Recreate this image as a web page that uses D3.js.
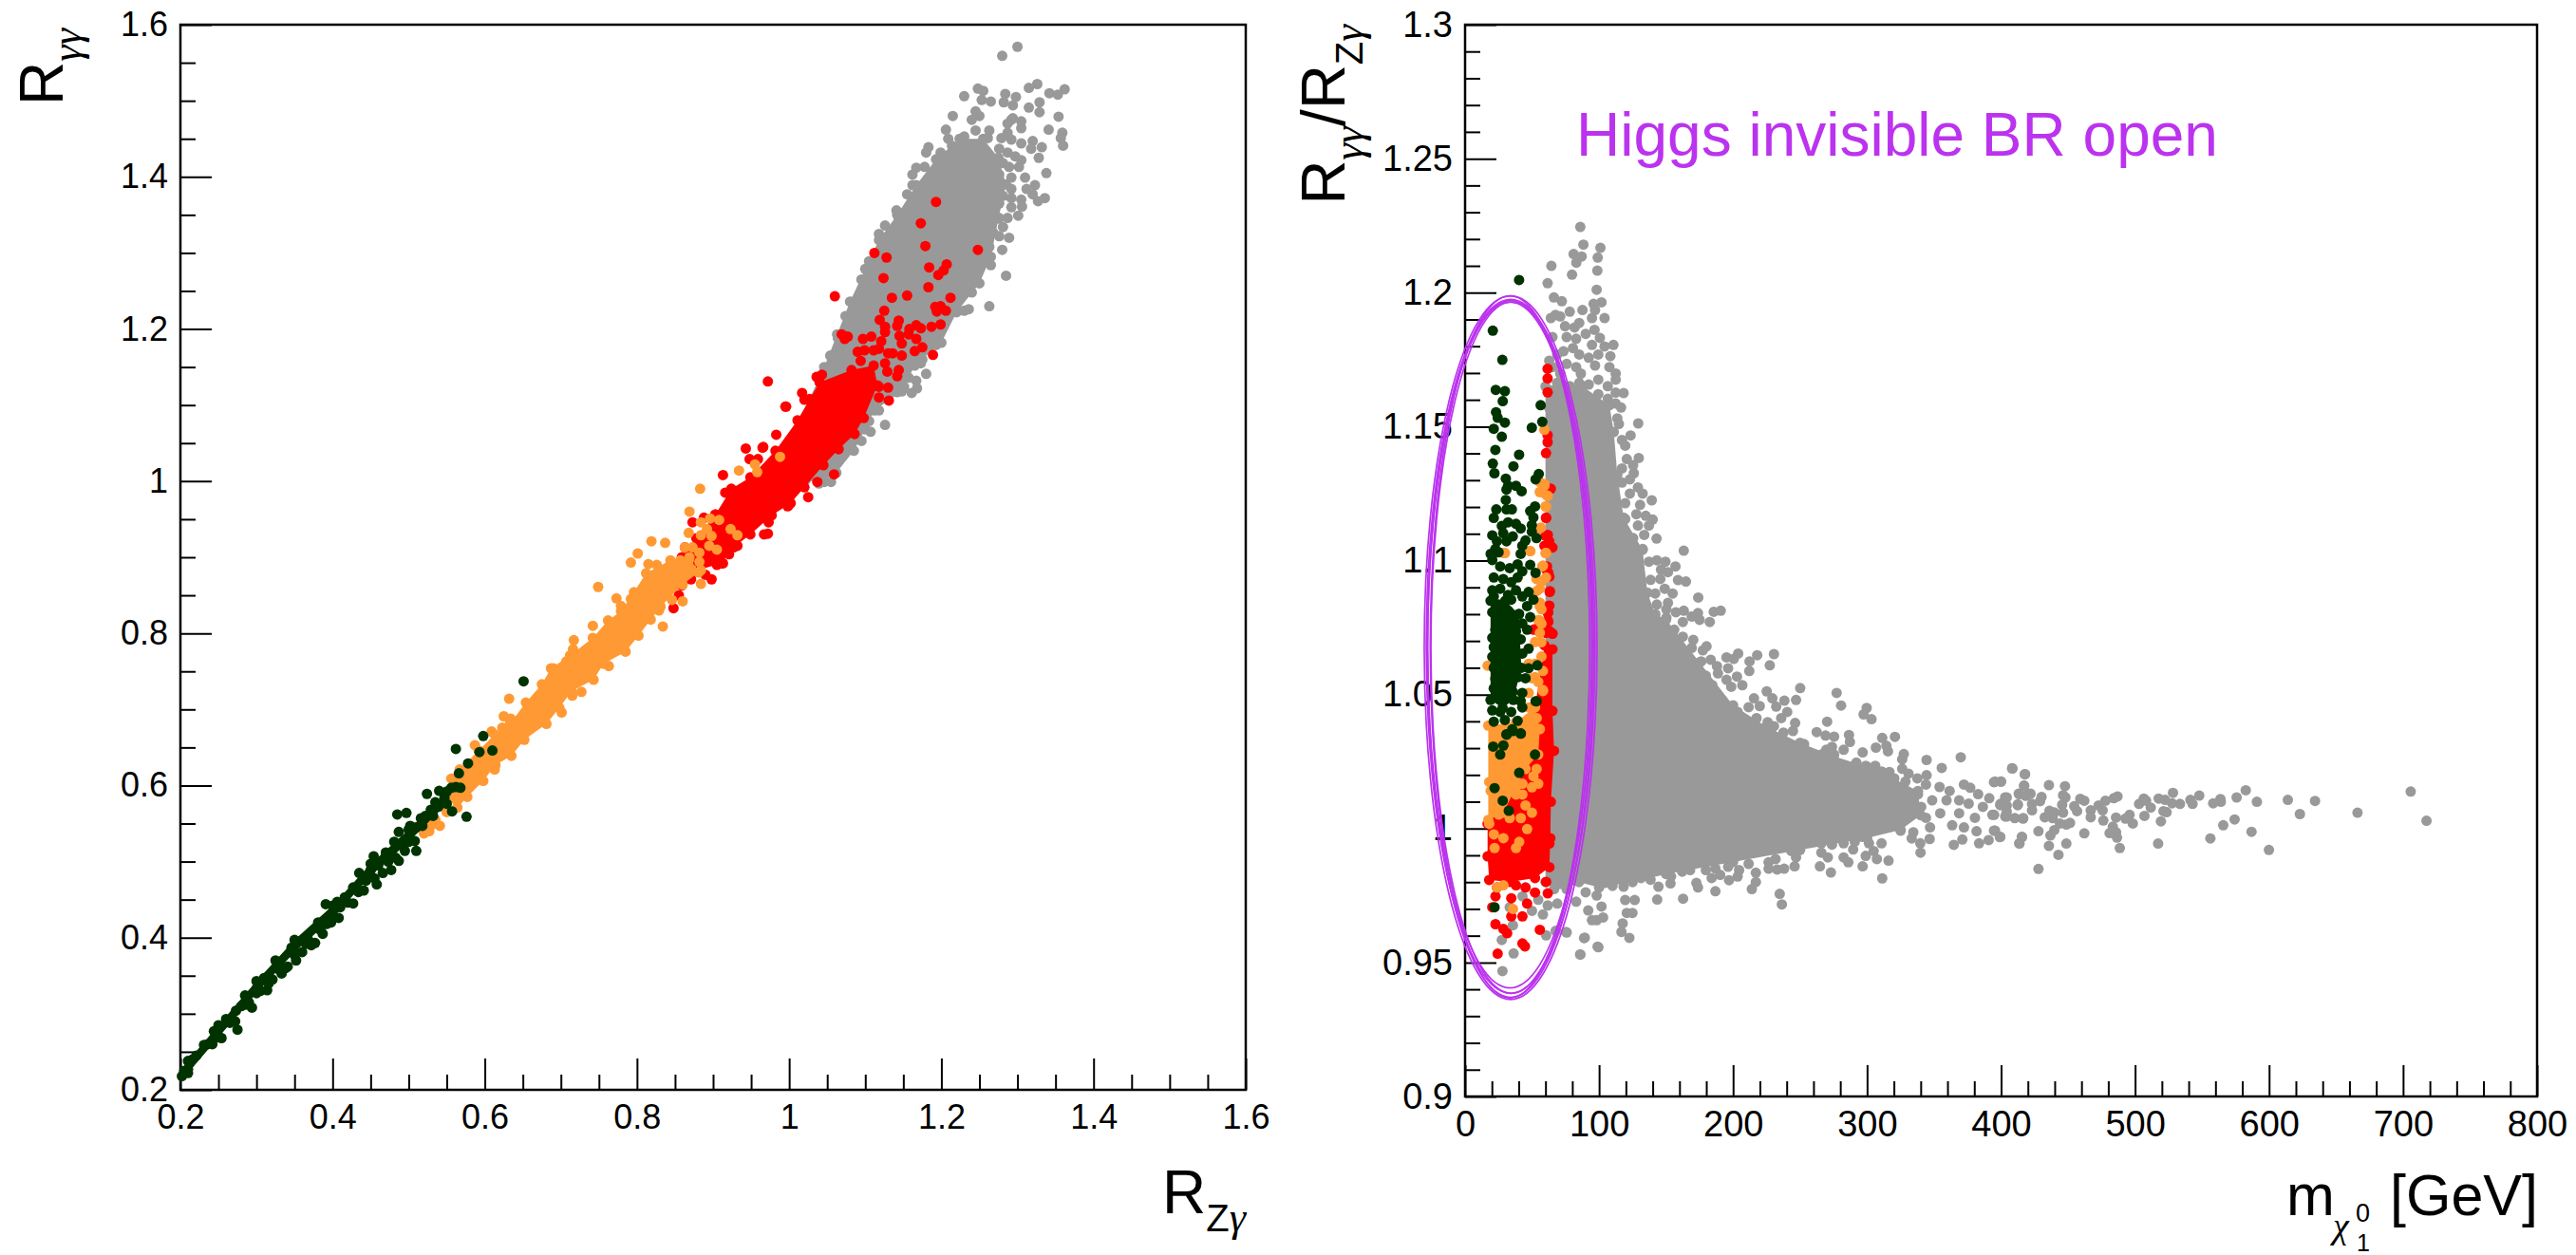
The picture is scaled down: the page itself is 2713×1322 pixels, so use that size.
<!DOCTYPE html>
<html>
<head>
<meta charset="utf-8">
<title>Higgs invisible BR open</title>
<script src="https://cdn.jsdelivr.net/npm/d3@7"></script>
<style>
  html, body { margin: 0; padding: 0; background: #fff; }
  svg { display: block; }
  text { font-family: "Liberation Sans", Arial, sans-serif; fill: #000; }
</style>
</head>
<body>
<svg id="chart" width="2713" height="1322"></svg>
<script>
// Left panel, tick values
const leftMajorTicks = [0.2, 0.4, 0.6, 0.8, 1, 1.2, 1.4, 1.6];
const leftMinorTicks = [0.25, 0.3, 0.35, 0.45, 0.5, 0.55, 0.65, 0.7, 0.75, 0.85, 0.9, 0.95, 1.05, 1.1, 1.15, 1.25, 1.3, 1.35, 1.45, 1.5, 1.55];

// Right panel, tick values
const rightXMajorTicks = [0, 100, 200, 300, 400, 500, 600, 700, 800];
const rightXMinorTicks = [20, 40, 60, 80, 120, 140, 160, 180, 220, 240, 260, 280, 320, 340, 360, 380, 420, 440, 460, 480, 520, 540, 560, 580, 620, 640, 660, 680, 720, 740, 760, 780];
const rightYMajorTicks = [0.9, 0.95, 1, 1.05, 1.1, 1.15, 1.2, 1.25, 1.3];
const rightYMinorTicks = [0.91, 0.92, 0.93, 0.94, 0.96, 0.97, 0.98, 0.99, 1.01, 1.02, 1.03, 1.04, 1.06, 1.07, 1.08, 1.09, 1.11, 1.12, 1.13, 1.14, 1.16, 1.17, 1.18, 1.19, 1.21, 1.22, 1.23, 1.24, 1.26, 1.27, 1.28, 1.29];

// The saturated middle of each cloud, outlined by eye (single points cannot be told apart there)
const grayLeftCore = [[1.0,1.05],[1.046,1.15],[1.063,1.193],[1.08,1.236],[1.1,1.279],[1.118,1.317],[1.142,1.35],[1.167,1.389],[1.193,1.423],[1.224,1.45],[1.255,1.45],[1.275,1.425],[1.285,1.39],[1.275,1.345],[1.265,1.295],[1.25,1.26],[1.22,1.222],[1.2,1.182],[1.165,1.152],[1.148,1.118],[1.112,1.093],[1.1,1.068],[1.085,1.04],[1.062,1.011],[1.039,0.997],[1.022,1.002]];
const redLeftCore = [[0.859,0.9],[0.878,0.925],[0.903,0.956],[0.924,0.99],[0.949,1.005],[0.982,1.04],[1.011,1.08],[1.027,1.108],[1.04,1.13],[1.082,1.146],[1.111,1.152],[1.116,1.126],[1.098,1.083],[1.086,1.062],[1.065,1.042],[1.045,1.021],[1.02,0.992],[1.002,0.971],[0.977,0.955],[0.949,0.93],[0.927,0.913],[0.911,0.892],[0.883,0.884]];
const orangeLeftCore = [[0.549,0.584],[0.567,0.621],[0.592,0.646],[0.613,0.667],[0.633,0.681],[0.654,0.709],[0.675,0.733],[0.687,0.754],[0.712,0.771],[0.742,0.794],[0.762,0.817],[0.779,0.829],[0.796,0.854],[0.812,0.879],[0.844,0.896],[0.869,0.9],[0.881,0.88],[0.86,0.864],[0.831,0.835],[0.818,0.818],[0.802,0.797],[0.785,0.776],[0.756,0.76],[0.743,0.739],[0.714,0.724],[0.698,0.702],[0.681,0.681],[0.652,0.66],[0.635,0.639],[0.614,0.627],[0.598,0.606],[0.577,0.585],[0.564,0.571]];
const greenLeftCore = [[0.21,0.238],[0.25,0.285],[0.3,0.343],[0.35,0.397],[0.4,0.442],[0.45,0.497],[0.5,0.542],[0.55,0.592],[0.55,0.576],[0.5,0.526],[0.45,0.481],[0.4,0.426],[0.35,0.381],[0.3,0.327],[0.25,0.269],[0.21,0.222]];
const grayRightCore = [[60,1.165],[72,1.166],[87.6,1.165],[107.7,1.158],[111,1.148],[113.6,1.132],[118.3,1.116],[132.5,1.104],[136,1.088],[142,1.08],[150,1.078],[175,1.062],[200,1.046],[225,1.038],[250,1.032],[275,1.027],[300,1.023],[320,1.0185],[338,1.014],[340,1.005],[325,0.9995],[300,0.9965],[250,0.992],[200,0.9875],[150,0.983],[125,0.98],[100,0.978],[85,0.98],[75.8,0.9774],[66.4,0.9774],[60,0.98]];
const redRightCore = [[16.8,1.0018],[49.9,1.0262],[52.2,1.0452],[59.3,1.0683],[65.2,1.0669],[65.2,1.0439],[66.4,1.029],[64,1.01],[63.6,0.9964],[62.9,0.9856],[52.2,0.9815],[33.3,0.9801],[18,0.9808],[16.8,0.9896]];
const orangeRightCore = [[17.3,1.0384],[38,1.0398],[52.2,1.0452],[55.8,1.0371],[54.6,1.0276],[45.1,1.0222],[38,1.0154],[28.6,1.0059],[17.3,1.0032]];
const greenRightCore = [[19,1.048],[19,1.085],[30,1.085],[40,1.08],[42,1.06],[36,1.048],[28,1.045]];

// Left panel, single points: [R_Zgamma, R_gammagamma]
const grayLeft = [[1.3,1.571],[1.28,1.559],[1.326,1.522],[1.315,1.517],[1.362,1.515],[1.342,1.51],[1.353,1.508],[1.248,1.516],[1.255,1.513],[1.23,1.506],[1.284,1.509],[1.298,1.505],[1.253,1.501],[1.265,1.499],[1.282,1.498],[1.294,1.494],[1.315,1.491],[1.329,1.498],[1.329,1.485],[1.245,1.486],[1.25,1.48],[1.24,1.475],[1.215,1.48],[1.354,1.479],[1.292,1.475],[1.305,1.473],[1.294,1.477],[1.287,1.47],[1.305,1.464],[1.341,1.462],[1.359,1.458],[1.357,1.451],[1.36,1.441],[1.263,1.461],[1.206,1.462],[1.287,1.458],[1.209,1.45],[1.279,1.451],[1.292,1.449],[1.32,1.447],[1.332,1.439],[1.305,1.444],[1.328,1.425],[1.338,1.405],[1.302,1.413],[1.292,1.399],[1.31,1.399],[1.323,1.389],[1.312,1.384],[1.336,1.372],[1.327,1.368],[1.32,1.377],[1.305,1.37],[1.306,1.361],[1.292,1.36],[1.301,1.349],[1.289,1.32],[1.28,1.304],[1.285,1.27],[1.263,1.23],[1.236,1.226],[1.23,1.224],[1.183,1.439],[1.18,1.432],[1.167,1.412],[1.162,1.389],[1.155,1.377],[1.141,1.356],[1.118,1.325],[1.265,1.284],[1.245,1.265],[1.24,1.248],[1.175,1.16],[1.18,1.141],[1.167,1.132],[1.168,1.122],[1.161,1.116],[1.151,1.124],[1.126,1.074],[1.107,1.065],[1.095,1.053],[1.055,0.999],[1.046,0.999],
  [1.276,1.437],[1.287,1.432],[1.297,1.427],[1.305,1.422],[1.318,1.437],[1.281,1.418],[1.289,1.413],[1.276,1.403],[1.292,1.384],[1.281,1.375],[1.292,1.372],[1.276,1.365],[1.266,1.351],[1.276,1.346],[1.287,1.346],[1.281,1.334],[1.268,1.327],[1.276,1.322],[1.263,1.308],[1.255,1.289],[1.162,1.403],[1.178,1.413],[1.126,1.336],[1.105,1.289],[1.095,1.265],[1.085,1.236],[1.074,1.217],[1.064,1.188],[1.054,1.165],[1.199,1.432],[1.214,1.441],[1.23,1.453],[1.245,1.461],[1.261,1.451],[1.25,1.289],[1.219,1.227],[1.206,1.212],[1.193,1.179],[1.173,1.155],[1.157,1.136],[1.142,1.117],[1.118,1.093],[1.105,1.079]];
const redLeft = [[1.193,1.367],[1.173,1.339],[1.179,1.309],[1.112,1.3],[1.128,1.294],[1.248,1.304],[1.207,1.285],[1.184,1.281],[1.203,1.277],[1.196,1.271],[1.124,1.267],[1.183,1.255],[1.06,1.243],[1.135,1.241],[1.155,1.244],[1.212,1.241],[1.192,1.229],[1.199,1.23],[1.194,1.223],[1.206,1.224],[1.125,1.224],[1.119,1.212],[1.144,1.211],[1.142,1.204],[1.199,1.206],[1.187,1.203],[1.173,1.201],[1.167,1.205],[1.158,1.2],[1.126,1.203],[1.126,1.196],[1.157,1.193],[1.069,1.193],[1.077,1.19],[1.073,1.187],[1.145,1.191],[1.167,1.187],[1.097,1.187],[1.108,1.19],[1.148,1.181],[1.121,1.184],[1.175,1.176],[1.165,1.171],[1.189,1.166],[1.148,1.165],[1.09,1.17],[1.099,1.172],[1.111,1.172],[1.13,1.168],[1.136,1.168],[1.118,1.174],[1.094,1.158],[1.126,1.155],[1.144,1.146],[1.129,1.144],[1.142,1.138],[0.972,1.131],[1.13,1.123],[1.118,1.124],[1.131,1.106],[1.118,1.11],[0.996,1.098],[1.036,1.137],[1.043,1.14],[1.017,1.116],[1.02,1.107],[0.943,1.043],[0.966,1.045],[0.913,1.008],[1.025,0.979],[0.999,0.968],[0.983,1.061],[1.059,1.009],[1.037,0.999],[0.967,0.93],[0.972,0.931],[0.873,0.946],[0.898,0.871],[0.89,0.877],[0.905,0.89],[0.913,0.892],[0.921,0.904],[0.932,0.915],[0.871,0.871],[0.859,0.863],[0.855,0.85],[0.848,0.833],[0.998,0.967],[0.973,0.946],[0.888,0.952],[0.863,0.913],[0.965,1.044],[0.995,1.098],[0.948,1.029],[0.959,1.029],[0.916,0.985],[0.903,0.956]];
const orangeLeft = [[0.883,0.99],[0.869,0.96],[0.934,1.014],[0.955,1.022],[0.958,1.012],[0.988,1.032],[0.896,0.951],[0.908,0.949],[0.884,0.946],[0.892,0.937],[0.898,0.928],[0.884,0.929],[0.868,0.932],[0.923,0.937],[0.932,0.929],[0.895,0.915],[0.905,0.91],[0.873,0.913],[0.882,0.906],[0.863,0.913],[0.819,0.921],[0.837,0.919],[0.801,0.905],[0.792,0.893],[0.815,0.891],[0.826,0.89],[0.844,0.892],[0.857,0.896],[0.868,0.896],[0.882,0.894],[0.884,0.883],[0.865,0.883],[0.859,0.871],[0.884,0.865],[0.86,0.842],[0.846,0.844],[0.829,0.83],[0.834,0.809],[0.749,0.861],[0.773,0.846],[0.792,0.845],[0.779,0.836],[0.742,0.81],[0.717,0.791],[0.716,0.779],[0.763,0.757],[0.707,0.763],[0.69,0.754],[0.727,0.723],[0.715,0.718],[0.632,0.714],[0.701,0.696],[0.625,0.691],[0.634,0.688],[0.609,0.671],[0.623,0.676],[0.587,0.653],[0.613,0.621],[0.556,0.609],[0.52,0.537],[0.527,0.54],[0.541,0.547],[0.535,0.555],[0.55,0.565],[0.558,0.609],[0.545,0.575],[0.53,0.548]];
const greenLeft = [[0.202,0.218],[0.205,0.225],[0.212,0.235],[0.21,0.227],[0.216,0.24],[0.221,0.245],[0.231,0.259],[0.236,0.26],[0.242,0.26],[0.244,0.277],[0.249,0.272],[0.254,0.268],[0.26,0.293],[0.265,0.288],[0.272,0.29],[0.275,0.279],[0.273,0.304],[0.28,0.31],[0.285,0.324],[0.285,0.312],[0.29,0.315],[0.294,0.308],[0.3,0.333],[0.305,0.33],[0.31,0.347],[0.314,0.331],[0.316,0.34],[0.321,0.345],[0.325,0.37],[0.33,0.358],[0.333,0.353],[0.338,0.36],[0.341,0.362],[0.346,0.387],[0.35,0.377],[0.352,0.37],[0.36,0.381],[0.365,0.392],[0.368,0.397],[0.372,0.39],[0.377,0.393],[0.381,0.42],[0.384,0.41],[0.387,0.405],[0.392,0.418],[0.398,0.42],[0.391,0.444],[0.4,0.432],[0.406,0.447],[0.408,0.426],[0.41,0.44],[0.416,0.453],[0.42,0.446],[0.427,0.445],[0.427,0.466],[0.434,0.46],[0.441,0.462],[0.435,0.485],[0.444,0.475],[0.45,0.489],[0.455,0.478],[0.458,0.47],[0.454,0.507],[0.46,0.495],[0.466,0.485],[0.47,0.512],[0.473,0.5],[0.477,0.489],[0.483,0.505],[0.487,0.501],[0.481,0.526],[0.49,0.522],[0.495,0.514],[0.5,0.526],[0.51,0.514],[0.508,0.527],[0.487,0.539],[0.485,0.562],[0.497,0.564],[0.502,0.547],[0.51,0.545],[0.516,0.557],[0.518,0.547],[0.522,0.56],[0.529,0.568],[0.532,0.56],[0.539,0.572],[0.524,0.589],[0.54,0.593],[0.535,0.578],[0.557,0.566],[0.576,0.559],[0.547,0.584],[0.556,0.597],[0.562,0.598],[0.568,0.597],[0.566,0.616],[0.578,0.629],[0.562,0.648],[0.593,0.644],[0.598,0.665],[0.61,0.646],[0.651,0.737]];

// Right panel, single points: [m_chi, R_gammagamma / R_Zgamma]
const grayRight = [[86,1.2245],[88.3,1.2179],[101,1.2167],[81,1.2144],[87,1.2135],[99,1.2131],[83,1.2112],[98.7,1.2082],[79.8,1.2067],[98.2,1.2011],[101.8,1.1964],[95.9,1.1958],[72.2,1.1968],[78.1,1.1929],[87.6,1.1935],[97,1.1935],[104.1,1.1905],[94.7,1.1905],[71,1.1911],[85.2,1.1887],[74.6,1.1875],[81.7,1.187],[96.6,1.1861],[90,1.1846],[100.6,1.1831],[75.8,1.1834],[82.9,1.1828],[94.7,1.1805],[110.7,1.1805],[104.1,1.1799],[80.5,1.1793],[73.4,1.1781],[108.4,1.1763],[99.4,1.1769],[85.2,1.1769],[92.3,1.1757],[75.8,1.1734],[107.7,1.1722],[97,1.1728],[82.9,1.1722],[112.4,1.1698],[71,1.1698],[86.4,1.1698],[112.4,1.1675],[99.4,1.1675],[92.3,1.1657],[106.5,1.1651],[78.1,1.1651],[85.2,1.1663],[71,1.1633],[118.3,1.1625],[112.4,1.1627],[99.4,1.1621],[86.4,1.1616],[78.1,1.1604],[92.3,1.1604],[106.5,1.1604],[112.4,1.1586],[116.4,1.1571],[100.6,1.1568],[113.6,1.1531],[129.2,1.1512],[114.8,1.151],[123.5,1.1467],[117.1,1.145],[119.5,1.1429],[129.6,1.1383],[120.7,1.1379],[125.4,1.1356],[117.1,1.1344],[125.9,1.1326],[123,1.1303],[117.1,1.1291],[129,1.1273],[132.5,1.125],[139.3,1.1225],[123,1.125],[130.6,1.1208],[119.5,1.1214],[127.8,1.1173],[134.8,1.1167],[140,1.1153],[119.5,1.1155],[137.2,1.1131],[129,1.1131],[133.7,1.1096],[142.9,1.1082],[125.4,1.1084],[132.5,1.1043],[163.2,1.1037],[143.1,1.1001],[149.5,1.0996],[137.2,1.0996],[157,1.0978],[146.2,1.0966],[151.4,1.0957],[158.9,1.0927],[164.8,1.0922],[138.4,1.0928],[145.7,1.0931],[149,1.0895],[154.9,1.0877],[174,1.0862],[141.9,1.0877],[151.4,1.0842],[143.1,1.0836],[150.2,1.0818],[157.3,1.0807],[163.2,1.0813],[185.6,1.0809],[190.8,1.0813],[173.8,1.0804],[169.1,1.0791],[175,1.0779],[182.6,1.0771],[162.5,1.0771],[150.2,1.0787],[156.1,1.0742],[162.5,1.0716],[170.3,1.0704],[152.6,1.0694],[169.1,1.0674],[180.2,1.068],[177.4,1.0665],[203.8,1.0653],[218,1.0647],[230.5,1.0651],[195.1,1.0639],[200.5,1.0633],[212.3,1.0624],[227.4,1.0609],[212.1,1.0588],[183.3,1.063],[188,1.0606],[196.3,1.0598],[176.2,1.0624],[163.2,1.0635],[167.9,1.0612],[188.7,1.0579],[179.7,1.057],[170.3,1.0576],[153.7,1.0641],[158.5,1.06],[202.9,1.0567],[195.1,1.0555],[206.9,1.0535],[198.6,1.0529],[184.5,1.0535],[172.6,1.0541],
  [250.1,1.0524],[277.3,1.0506],[280.6,1.0459],[299.7,1.045],[297.4,1.0426],[303.3,1.0408],[225.1,1.0512],[229.3,1.0486],[247,1.048],[238.3,1.0477],[215.6,1.0486],[232.2,1.0455],[219.9,1.0457],[211.6,1.0453],[240.4,1.0435],[235.9,1.0412],[270.2,1.0399],[246.3,1.0394],[225.8,1.0397],[217.5,1.0412],[203.4,1.0435],[196.3,1.0435],[244.7,1.0364],[237.6,1.0358],[230.5,1.0382],[262.4,1.036],[269,1.0347],[275.4,1.0343],[320.8,1.0342],[286.5,1.0349],[311.3,1.0338],[287.2,1.0323],[306.6,1.0302],[315.6,1.0288],[314.4,1.0309],[273.8,1.0305],[282.5,1.0294],[296.7,1.0284],[253,1.0315],[256.5,1.0282],[269.5,1.0294],[275.4,1.0276],[266,1.0276],[237.6,1.0305],[229.3,1.0329],[327.4,1.0278],[326.2,1.0258],[344.4,1.0256],[369.9,1.0266],[355.7,1.0226],[292,1.0246],[257.7,1.0246],[273.8,1.0234],[299,1.0234],[306.1,1.0234],[326.2,1.0223],[330.9,1.0205],[408.2,1.0225],[417.9,1.0203],[344.4,1.0199],[316.7,1.0211],[310.9,1.0213],[299,1.0199],[394.7,1.0173],[399.9,1.0175],[417.2,1.016],[337.5,1.0187],[328.6,1.0175],[320.3,1.0187],[372.3,1.0164],[354.1,1.0155],[343.9,1.0164],[377,1.0152],[361.6,1.014],[382.9,1.0128],[391.2,1.0113],[403,1.0116],[413.6,1.0128],[420.7,1.0128],[328.6,1.0116],[338,1.0128],[348.6,1.0105],[359.3,1.0105],[368.7,1.0105],[375.8,1.0093],[386.4,1.0081],[399.4,1.0087],[412.4,1.0087],[323.8,1.0081],[340.4,1.0081],[354.6,1.0057],[368.7,1.0057],[380.5,1.004],[393.5,1.0051],[404.2,1.0045],[416.4,1.0037],[328.6,1.0045],[343.9,1.004],[321.5,1.0051],[363.5,1.0012],[347,1.0004],[372.3,1.0004],[381.7,0.999],[394.7,0.9992],[325,0.9992],[334.5,0.9986],[399.4,0.9969],[415.5,0.9969],[390.7,0.9957],[371.1,0.9959],[346.7,0.9961],[333.3,0.9963],[339.7,0.9945],[383.6,0.9945],[413.6,0.9945],[364.7,0.9939],[339.9,0.991],[316,0.988],[311.3,0.9814],[296.7,0.9859],[310.8,0.9945],[304.9,0.9916],[307.3,0.9886],[299,0.9898],[301.4,0.9945],[289.6,0.9922],[282.5,0.9945],[290.8,0.9951],[296.7,0.9969],[284.9,0.9998],[276.6,0.9986],[273.8,0.994],[265.9,0.9945],[265.9,0.991],[270.7,0.9892],[282.5,0.9892],[286,0.9874],[264.8,0.9859],[273,0.9836],[249.4,0.9939],[243.5,0.9916],[247,0.9892],[245.9,0.9859],[238.1,0.985],[232.9,0.9847],[231.7,0.9886],[226.5,0.9874],[226.5,0.985],[235.2,0.9933],[222.3,0.9945],[217.5,0.9916],[211.1,0.9927],[211.6,0.9868],[204.5,0.9845],[203.4,0.9821],[217,0.9835],[217,0.98],[214,0.9774],[234.8,0.9756],[236.4,0.9717],[196.3,0.9857],[190.4,0.9904],[184.5,0.9892],[186.8,0.9851],[190.4,0.9827],[197,0.9807],[184,0.9815],[199.8,0.9898],[179.7,0.9845],[172.6,0.9797],[173.8,0.978],[186.8,0.9766],[167.9,0.9845],[162,0.9839],[153.7,0.9821],[153.3,0.9795],[162.7,0.9738],[144.3,0.9783],[143.4,0.9735],[138.4,0.9809],[131.3,0.9815],[124.2,0.9815],[118.3,0.9783],[110,0.9786],[126.6,0.9733],[119.5,0.9733],[101.8,0.9709],[98.2,0.975],[124.9,0.9685],[120.7,0.9685],[103,0.9668],[98.2,0.9658],[94.7,0.9658],[91.9,0.9694],[117.6,0.9646],[116.7,0.9614],[122.6,0.9592],[89.3,0.9593],[98.9,0.9559],[85.9,0.953],[75.3,0.9614],[82.9,0.9727],[90,0.9762],[104.1,0.9797],[92.3,0.9821],
  [408.5,1.0224],[417.7,1.0202],[400,1.0175],[395.5,1.0175],[417.2,1.0159],[435.7,1.0162],[447.7,1.0158],[413.2,1.013],[422,1.013],[430.2,1.0118],[446.3,1.0124],[448,1.0116],[459.1,1.0111],[462.1,1.0104],[418.4,1.0122],[404.2,1.0116],[399.5,1.0092],[404.2,1.0086],[412.5,1.009],[423.1,1.0092],[429.1,1.0102],[445.6,1.0089],[454.6,1.0083],[456.7,1.0065],[472.8,1.0086],[477.9,1.0104],[486.9,1.012],[484.1,1.0113],[466.9,1.0068],[475.8,1.0068],[423.1,1.0068],[404.2,1.0063],[394.8,1.0051],[436.1,1.0066],[439.7,1.006],[446.3,1.0059],[403.1,1.0045],[410.2,1.0039],[416.5,1.0039],[432.6,1.0042],[438.5,1.0039],[466.9,1.0042],[485.8,1.0041],[495.9,1.0051],[492.8,1.0037],[476.3,1.003],[498.3,1.0019],[507,1.0047],[519.3,1.0027],[521.2,1.0065],[523.5,1.0061],[503,1.0092],[506.5,1.0112],[511.7,1.0078],[508.2,1.0104],[517.6,1.0112],[522.4,1.0107],[528.3,1.0133],[527.6,1.0094],[533.5,1.0092],[541.3,1.0107],[542.9,1.0092],[547.9,1.0123],[558.3,1.0094],[563.7,1.011],[564,1.01],[575.8,1.0116],[582.6,1.0143],[590.9,1.01],[614,1.0107],[634.3,1.0103],[623,1.0054],[666,1.0059],[705.7,1.0138],[717.5,1.0029],[574.3,1.0034],[565.8,1.0012],[556.2,0.9963],[586.9,0.9988],[599.9,0.992],[517.2,0.9944],[488.6,0.9927],[486.5,0.9966],[485.8,0.9986],[481,0.9983],[483.4,1.0007],[462.1,0.9982],[451.5,1.0021],[448.7,1.0015],[443.9,1.0019],[448.7,0.9944],[442.8,0.9902],[435.7,0.9935],[436.8,0.9974],[439.7,0.9994],[427.9,0.999],[427.9,0.9849],[415.6,0.9968],[413.7,0.9944],[399.1,0.9968],[395.5,0.9992],
  [27.4,0.9584],[35.7,0.9639],[36.2,0.9534],[27.9,0.9468],[60.5,0.9601],[75.8,0.9612],[88.8,0.9591],[86,0.953],[99.5,0.9557],[67.6,0.9618],[49.9,0.9693],[58.1,0.9679],[61.7,0.9713],[68.8,0.972],[42.8,0.9747],[33.3,0.9706],[54.6,0.9734],[61.6,1.2035],[64.4,1.21],[66.3,1.1982],[64,1.1905],[67.5,1.1917],[65.2,1.1722],[68.7,1.1663],[65.2,1.1834],[68.7,1.1769],[62.8,1.1569],[67.5,1.1628],[62.8,1.1746]];
const redRight = [[60.5,1.116],[62.9,1.1062],[61.7,1.1096],[65.2,1.1049],[60.5,1.0967],[62.9,1.094],[63.1,1.0883],[62.9,1.0832],[61.7,1.0778],[65.2,1.0727],[59.3,1.0737],[62.9,1.0737],[64,1.1268],[61.7,1.0805],[52.2,1.0744],[61.6,1.1716],[61.6,1.168],[61.6,1.1628],[61.6,1.1468],[61.6,1.1442],[60.4,1.1401],[63.5,1.1267],[60.4,1.1159],[60,1.1093],[62.8,1.1072],[62.8,1.1049],[59.2,1.1055],[61.1,1.0978],[62.1,1.0954],[63.3,1.0886],[62.1,1.083],[62.1,1.0807],[62.1,1.0771],[65.2,1.0728],[51,1.0742],[60.4,1.073],[23.9,0.978],[22.7,0.9747],[20.3,0.9706],[22.7,0.9643],[28.6,0.9625],[31.4,0.9609],[24.3,0.9533],[42.8,0.9571],[44.7,0.956],[55.8,0.9622],[42.8,0.9672],[46.3,0.972],[34.5,0.9672],[38,0.9788],[45.1,0.978],[52.2,0.9761],[60.5,0.9801],[61.7,0.9758],[34.5,0.974],[62.9,0.9944]];
const orangeRight = [[48.7,1.1035],[57,1.1255],[61.7,1.1241],[55.8,1.1293],[59.3,1.128],[60.5,1.1201],[56.5,1.1123],[60.5,1.1028],[57,1.092],[53.4,1.0886],[58.1,1.0981],[55.8,1.0843],[57,1.0818],[54.6,1.0778],[57,1.0764],[55.8,1.073],[52.2,1.0696],[57,1.0642],[58.1,1.0588],[52.2,1.0615],[47.5,1.0615],[49.9,1.0561],[54.6,1.0547],[58.1,1.0513],[47.5,1.0506],[40.4,1.0479],[28.6,1.1028],[53.4,1.0412],[47.5,1.0452],[42.8,1.0167],[51,1.0195],[54.6,1.0167],[49.9,1.0154],[38,1.0127],[42.8,1.0127],[45.1,1.0086],[49.9,1.0059],[53.4,1.0222],[41.6,1.0039],[33.3,1.0039],[25.1,1.0052],[18,1.0018],[21.5,0.9978],[28.6,0.9964],[22,0.9927],[38,0.9927],[40.4,0.995],[46.3,0.9998],[23.9,0.978],[28.6,0.9788],[35.7,0.97],[16.8,1.0608],[29.8,1.1028],[18,1.0174],[19.1,1.014],[59.2,1.1488],[59.2,1.1285],[55.7,1.1256],[60.9,1.1244],[60,1.1202],[55.7,1.112],[48.6,1.1035],[60,1.1028],[57.6,1.0978],[60.4,1.0937],[53.3,1.0931],[55.7,1.0895],[55.7,1.083],[55.7,1.0777],[56.9,1.0695],[58.1,1.0517],[52.2,1.0565]];
const greenRight = [[40.3,1.2047],[20.7,1.1858],[27.8,1.1749],[22.9,1.1637],[29.7,1.1632],[28.1,1.1595],[56.4,1.158],[23.1,1.1554],[24.3,1.1533],[29.7,1.1515],[57.6,1.1518],[21.4,1.1492],[49.8,1.1496],[27.4,1.1462],[22.6,1.1413],[40.3,1.1395],[36.1,1.1352],[20.7,1.1362],[21.9,1.1326],[55,1.1323],[52.6,1.1303],[30.4,1.1306],[32.1,1.1279],[38,1.1279],[42.2,1.1259],[30.9,1.1265],[30.4,1.1226],[52.2,1.1202],[23.3,1.1191],[34.9,1.1191],[48.6,1.1185],[21.4,1.1159],[30.9,1.1191],[51,1.1161],[32.1,1.1143],[38,1.1137],[27.4,1.1129],[41.5,1.112],[49.8,1.1132],[49.8,1.1108],[28.5,1.1102],[35.6,1.109],[20.3,1.1094],[53.3,1.1084],[45.1,1.1075],[30.9,1.1072],[23.8,1.1072],[42.7,1.1055],[22.6,1.1043],[41.5,1.1025],[19.1,1.1025],[25,1.1031],[20.3,1.1002],[39.2,1.0986],[48.6,1.0984],[26.2,1.0978],[33.3,1.0972],[42.7,1.096],[52.6,1.0954],[21.4,1.0937],[28.5,1.0931],[39.2,1.0937],[34.4,1.0919],[26.2,1.0895],[20.3,1.0889],[38,1.0889],[47.4,1.0883],[32.1,1.0872],[21.4,1.0866],[42.7,1.0866],[34.4,1.0854],[51,1.0854],[25,1.0836],[46.3,1.083],[20.3,1.0807],[32.1,1.0813],[40.3,1.0801],[48.6,1.0789],[26.2,1.0783],[34.4,1.0771],[42.7,1.0765],[22.6,1.0742],[29.7,1.0748],[38,1.0736],[46.3,1.0742],[20.3,1.0712],[26.2,1.0712],[33.3,1.0706],[41.5,1.0706],[47.4,1.0671],[21.4,1.0677],[28.5,1.0677],[36.8,1.0671],[42.7,1.0653],[20.3,1.0641],[26.2,1.0636],[33.3,1.0641],[54,1.0609],[47.4,1.0598],[40.3,1.06],[21.4,1.06],[29.7,1.06],[35.6,1.0606],[45.1,1.0561],[22.6,1.0559],[30.9,1.0565],[39.2,1.0565],[21.4,1.0523],[28.5,1.0523],[35.6,1.0511],[42.7,1.0506],[26.2,1.0482],[41.5,1.0476],[52.6,1.0475],[34.4,1.0435],[42.7,1.0452],[20.3,1.0441],[26.2,1.0435],[39.2,1.0402],[21.4,1.0399],[29.7,1.0405],[35.2,1.037],[30.9,1.0352],[41.5,1.0354],[31,1.035],[35.7,1.0364],[41.6,1.0355],[21,1.0306],[28.6,1.031],[26.2,1.0276],[52.2,1.0276],[40.4,1.0208],[22,1.0151],[28.1,1.0104],[32.6,1.0066],[22,0.9706],[53.4,1.0475]];

// Overlaid ellipses: [centre m, centre ratio, half width, half height]
const ellipseLoops = [[34,1.0675,64.5,0.1313],[34,1.068,63,0.1295],[33.5,1.0685,61.5,0.128],[34,1.067,62,0.13],[34.5,1.0675,60,0.129],[33.5,1.0678,59.5,0.131]];

const pointRadius = 5.5;
const gray = "#999999", red = "#ff0000", orange = "#ff9933", green = "#003300", magenta = "#bb33ee";

const svg = d3.select("#chart");

// Scales
const xLeft = d3.scaleLinear().domain([0.2, 1.6]).range([190, 1312]);
const yLeft = d3.scaleLinear().domain([0.2, 1.6]).range([1148, 26]);
const xRight = d3.scaleLinear().domain([0, 800]).range([1543, 2672]);
const yRight = d3.scaleLinear().domain([0.9, 1.3]).range([1155, 26]);

const fmt = d => String(+d.toFixed(2));

// Frame, ticks and tick labels of one panel
function drawAxes(x, y, xMajor, xMinor, yMajor, yMinor, fontSize) {
    const w = x.range()[1] - x.range()[0];
    const h = y.range()[0] - y.range()[1];

    const xAxisMinor = d3.axisBottom(x).tickValues(xMinor).tickSize(-16).tickFormat("");
    const xAxisMajor = d3.axisBottom(x).tickValues(xMajor).tickSize(-33).tickPadding(15).tickFormat(fmt);
    const yAxisMinor = d3.axisLeft(y).tickValues(yMinor).tickSize(-16).tickFormat("");
    const yAxisMajor = d3.axisLeft(y).tickValues(yMajor).tickSize(-33).tickPadding(13).tickFormat(fmt);

    const bottom = "translate(0," + y.range()[0] + ")";
    const left = "translate(" + x.range()[0] + ",0)";
    const groups = [
        svg.append("g").attr("transform", bottom).call(xAxisMinor),
        svg.append("g").attr("transform", bottom).call(xAxisMajor),
        svg.append("g").attr("transform", left).call(yAxisMinor),
        svg.append("g").attr("transform", left).call(yAxisMajor)
    ];
    groups.forEach(g => {
        g.select(".domain").remove();
        g.selectAll("line").attr("stroke", "#000").attr("stroke-width", 2);
        g.selectAll("text").style("font-size", fontSize + "px").style("font-family", '"Liberation Sans"').attr("fill", "#000");
    });

    svg.append("rect")
        .attr("x", x.range()[0]).attr("y", y.range()[1])
        .attr("width", w).attr("height", h)
        .attr("fill", "none").attr("stroke", "#000").attr("stroke-width", 2.5);
}

// One colour of one panel: filled core outline plus its single points
function drawCloud(x, y, core, points, color) {
    const line = d3.line().x(d => x(d[0])).y(d => y(d[1]));
    svg.append("path").attr("d", line(core) + "Z").attr("fill", color);
    svg.append("g").selectAll("circle")
        .data(points.concat(core))
        .enter()
        .append("circle")
        .attr("cx", d => x(d[0]))
        .attr("cy", d => y(d[1]))
        .attr("r", pointRadius)
        .attr("fill", color);
}

// Left panel
drawAxes(xLeft, yLeft, leftMajorTicks, leftMinorTicks, leftMajorTicks, leftMinorTicks, 36);
drawCloud(xLeft, yLeft, grayLeftCore, grayLeft, gray);
drawCloud(xLeft, yLeft, redLeftCore, redLeft, red);
drawCloud(xLeft, yLeft, orangeLeftCore, orangeLeft, orange);
drawCloud(xLeft, yLeft, greenLeftCore, greenLeft, green);

// Right panel
drawAxes(xRight, yRight, rightXMajorTicks, rightXMinorTicks, rightYMajorTicks, rightYMinorTicks, 38);
drawCloud(xRight, yRight, grayRightCore, grayRight, gray);
drawCloud(xRight, yRight, redRightCore, redRight, red);
drawCloud(xRight, yRight, orangeRightCore, orangeRight, orange);
drawCloud(xRight, yRight, greenRightCore, greenRight, green);

// Ellipse loops sit on top of everything
svg.append("g").selectAll("ellipse")
    .data(ellipseLoops)
    .enter()
    .append("ellipse")
    .attr("cx", d => xRight(d[0]))
    .attr("cy", d => yRight(d[1]))
    .attr("rx", d => xRight(d[2]) - xRight(0))
    .attr("ry", d => yRight(0) - yRight(d[3]))
    .attr("fill", "none")
    .attr("stroke", magenta)
    .attr("stroke-width", 1.7);

svg.append("text")
    .attr("x", 1660).attr("y", 164)
    .style("font-size", "64px").style("fill", magenta)
    .text("Higgs invisible BR open");

// Axis titles
const gammaFont = '"Liberation Serif"';

const leftXTitle = svg.append("text").attr("x", 1224).attr("y", 1278).style("font-size", "64px");
leftXTitle.append("tspan").text("R");
leftXTitle.append("tspan").attr("dy", 19).style("font-size", "40px").text("Z");
leftXTitle.append("tspan").style("font-size", "44px").style("font-family", gammaFont).style("font-style", "italic").text("γ");

const leftYTitle = svg.append("text").attr("transform", "translate(66,30) rotate(-90)").attr("text-anchor", "end").style("font-size", "64px");
leftYTitle.append("tspan").text("R");
leftYTitle.append("tspan").attr("dy", 19).style("font-size", "44px").style("font-family", gammaFont).style("font-style", "italic").text("γγ");

const rightYTitle = svg.append("text").attr("transform", "translate(1416,26) rotate(-90)").attr("text-anchor", "end").style("font-size", "65px");
rightYTitle.append("tspan").text("R");
rightYTitle.append("tspan").attr("dy", 19).style("font-size", "45px").style("font-family", gammaFont).style("font-style", "italic").text("γγ");
rightYTitle.append("tspan").attr("dy", -19).text("/R");
rightYTitle.append("tspan").attr("dy", 19).style("font-size", "40px").text("Z");
rightYTitle.append("tspan").style("font-size", "45px").style("font-family", gammaFont).style("font-style", "italic").text("γ");

svg.append("text").attr("x", 2408).attr("y", 1280).style("font-size", "61px").text("m");
svg.append("text").attr("x", 2457).attr("y", 1304).style("font-size", "38px").style("font-family", gammaFont).style("font-style", "italic").text("χ");
svg.append("text").attr("x", 2481).attr("y", 1287).style("font-size", "27px").text("0");
svg.append("text").attr("x", 2482).attr("y", 1318).style("font-size", "25px").text("1");
svg.append("text").attr("x", 2673).attr("y", 1280).attr("text-anchor", "end").style("font-size", "61px").text("[GeV]");
</script>
</body>
</html>
